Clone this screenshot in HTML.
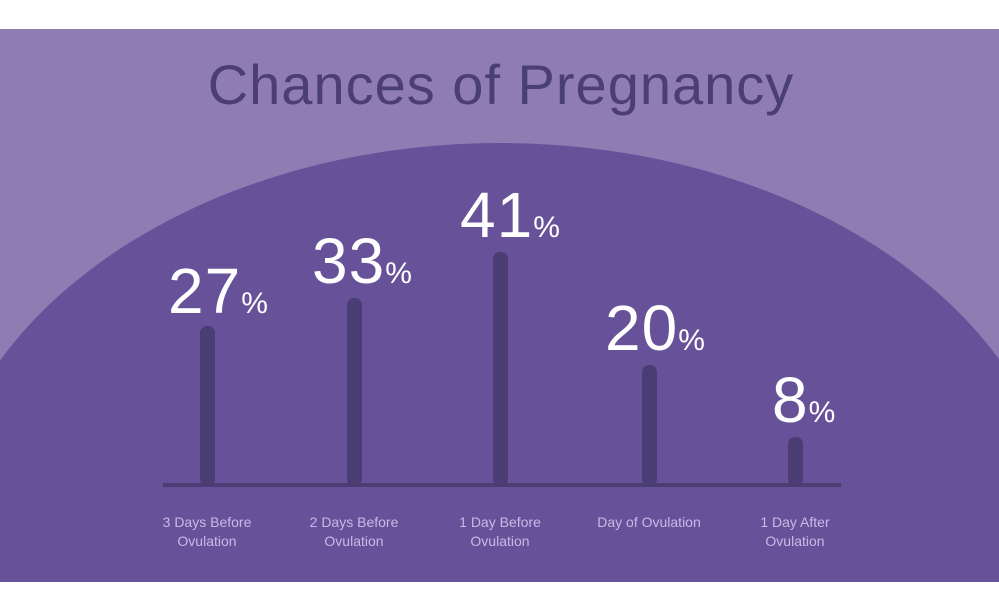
<!DOCTYPE html>
<html style="overflow:hidden"><head><style>
html,body{margin:0;padding:0;width:999px;height:600px;background:#fff;overflow:hidden;font-family:"Liberation Sans",sans-serif}
svg{display:block}
</style></head><body>
<svg width="999" height="600" xmlns="http://www.w3.org/2000/svg">
<defs><clipPath id="c"><rect x="0" y="29" width="999" height="553"/></clipPath></defs>
<rect x="0" y="29" width="999" height="553" fill="#8f7cb3"/>
<ellipse cx="500" cy="550" rx="565" ry="407" fill="#67529a" clip-path="url(#c)"/>
<text x="501" y="104" text-anchor="middle" font-size="56" letter-spacing="1" fill="#4b3e74" font-family="Liberation Sans, sans-serif">Chances of Pregnancy</text>
<rect x="163" y="483" width="678" height="4" fill="#4a3d73"/>
<g fill="#4a3d73">
<rect x="200" y="326" width="15" height="160" rx="7"/>
<rect x="347" y="298" width="15" height="188" rx="7"/>
<rect x="493" y="252" width="15" height="234" rx="7"/>
<rect x="642" y="365" width="15" height="121" rx="7"/>
<rect x="788" y="437" width="15" height="49" rx="7"/>
</g>
<g fill="#fff" font-family="Liberation Sans, sans-serif">
<text x="168" y="313" font-size="64" letter-spacing="1">27<tspan font-size="30">%</tspan></text>
<text x="312" y="283" font-size="64" letter-spacing="1">33<tspan font-size="30">%</tspan></text>
<text x="460" y="237" font-size="64" letter-spacing="1">41<tspan font-size="30">%</tspan></text>
<text x="605" y="350" font-size="64" letter-spacing="1">20<tspan font-size="30">%</tspan></text>
<text x="772" y="422" font-size="64" letter-spacing="1">8<tspan font-size="30">%</tspan></text>
</g>
<g fill="#c9b9e6" font-size="14" text-anchor="middle" font-family="Liberation Sans, sans-serif">
<text x="207" y="527">3 Days Before</text><text x="207" y="546">Ovulation</text>
<text x="354" y="527">2 Days Before</text><text x="354" y="546">Ovulation</text>
<text x="500" y="527">1 Day Before</text><text x="500" y="546">Ovulation</text>
<text x="649" y="527">Day of Ovulation</text>
<text x="795" y="527">1 Day After</text><text x="795" y="546">Ovulation</text>
</g>
</svg>
</body></html>
